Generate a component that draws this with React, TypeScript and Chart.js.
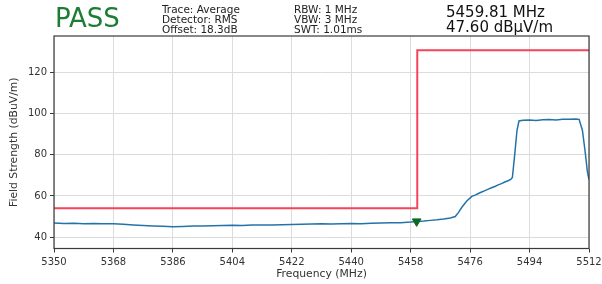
import React, { useEffect, useRef } from "react";
import { Chart, registerables } from "chart.js";

Chart.register(...registerables);

const traceFreq: number[] = [
  5350, 5353, 5356, 5359, 5362, 5365, 5368, 5371, 5374, 5377, 5380, 5383, 5386, 5389, 5392, 5395,
  5398, 5401, 5404, 5407, 5410, 5413, 5416, 5419, 5422, 5425, 5428, 5431, 5434, 5437, 5440, 5443,
  5446, 5449, 5452, 5455, 5458, 5459.81, 5462, 5464, 5466, 5468, 5470, 5471.5, 5472.5, 5473.5, 5475,
  5476.5, 5477.5, 5478.5, 5479.5, 5480.5, 5481.5, 5482.5, 5483.5, 5484.5, 5485.5, 5486.5, 5487.5,
  5488.3, 5488.8, 5489.5, 5490.2, 5490.8, 5492, 5494, 5496, 5498,
  5500, 5502, 5504, 5506, 5508, 5509, 5510, 5510.8, 5511.5, 5512,
];
const traceLevel: number[] = [
  46.8, 46.6, 46.7, 46.5, 46.6, 46.4, 46.5, 46.2, 45.9, 45.6, 45.4, 45.2, 45.0, 45.1, 45.3, 45.4,
  45.5, 45.6, 45.7, 45.6, 45.8, 45.9, 45.8, 46.0, 46.1, 46.2, 46.3, 46.4, 46.3, 46.5, 46.6, 46.5,
  46.7, 46.8, 46.9, 47.0, 47.3, 47.6, 47.8, 48.1, 48.4, 48.8, 49.3, 50.0, 52.0, 54.5, 57.5,
  59.8, 60.4, 61.2, 61.9, 62.6, 63.3, 64.0, 64.6, 65.4, 66.0, 66.8, 67.4,
  68.0, 69.0, 80.0, 92.0, 96.5, 96.9, 97.0, 96.8, 97.1,
  97.2, 97.0, 97.3, 97.4, 97.5, 97.3, 92.0, 82.0, 72.0, 68.0,
];
const limitFreq: number[] = [5350, 5460, 5460, 5512];
const limitLevel: number[] = [54, 54, 131, 131];
const markerFreq = 5459.81;
const markerLevel = 47.6;
const xTicks: number[] = [5350, 5368, 5386, 5404, 5422, 5440, 5458, 5476, 5494, 5512];
const yTicks: number[] = [40, 60, 80, 100, 120];
const infoCol1: string[] = ["Trace: Average", "Detector: RMS", "Offset: 18.3dB"];
const infoCol2: string[] = ["RBW: 1 MHz", "VBW: 3 MHz", "SWT: 1.01ms"];
const markerText: string[] = ["5459.81 MHz", "47.60 dBµV/m"];

const FONT = "'DejaVu Sans', sans-serif";

export default function App() {
  const ref = useRef<HTMLCanvasElement | null>(null);
  useEffect(() => {
    if (!ref.current) return;
    const framePlugin = {
      id: "frame",
      afterDraw(chart: any) {
        const { ctx, chartArea } = chart;
        ctx.save();
        ctx.strokeStyle = "#3a3a3a";
        ctx.lineWidth = 1.2;
        ctx.strokeRect(chartArea.left, chartArea.top, chartArea.right - chartArea.left, chartArea.bottom - chartArea.top);
        ctx.restore();
      },
    };
    const chart = new Chart(ref.current, {
      type: "line",
      data: {
        datasets: [
          {
            label: "limit",
            data: limitFreq.map((f, i) => ({ x: f, y: limitLevel[i] })),
            borderColor: "#f5435a",
            borderWidth: 2,
            pointRadius: 0,
            fill: false,
            order: 2,
          },
          {
            label: "trace",
            data: traceFreq.map((f, i) => ({ x: f, y: traceLevel[i] })),
            borderColor: "#2373aa",
            borderWidth: 1.5,
            pointRadius: 0,
            fill: false,
            order: 1,
          },
          {
            label: "marker",
            data: [{ x: markerFreq, y: markerLevel }],
            showLine: false,
            pointStyle: "triangle",
            rotation: 180,
            pointRadius: 5,
            backgroundColor: "#0b6b22",
            borderColor: "#0b6b22",
            order: 0,
          },
        ],
      },
      options: {
        animation: false,
        responsive: false,
        maintainAspectRatio: false,
        layout: { padding: { top: 36, right: 13, left: 0, bottom: 0 } },
        plugins: { legend: { display: false }, tooltip: { enabled: false } },
        scales: {
          x: {
            type: "linear",
            min: 5350,
            max: 5512,
            afterBuildTicks: (s: any) => {
              s.ticks = xTicks.map((v) => ({ value: v }));
            },
            afterFit: (s: any) => {
              s.height = 35.5;
              s.paddingLeft = 0;
              s.paddingRight = 0;
            },
            grid: { color: "#dcdcdc", lineWidth: 1, tickColor: "#3a3a3a", tickLength: 4 },
            border: { display: false },
            ticks: {
              color: "#333",
              font: { family: FONT, size: 10 },
              padding: 4,
              maxRotation: 0,
              autoSkip: false,
              callback: (v: any) => String(v),
            },
            title: {
              display: true,
              text: "Frequency (MHz)",
              color: "#333",
              font: { family: FONT, size: 10.8 },
              padding: { top: 0, bottom: 3 },
            },
          },
          y: {
            type: "linear",
            min: 34.4,
            max: 137.9,
            afterBuildTicks: (s: any) => {
              s.ticks = yTicks.map((v) => ({ value: v }));
            },
            afterFit: (s: any) => {
              s.width = 54;
              s.paddingTop = 0;
              s.paddingBottom = 0;
            },
            grid: { color: "#dcdcdc", lineWidth: 1, tickColor: "#3a3a3a", tickLength: 4 },
            border: { display: false },
            ticks: {
              color: "#333",
              font: { family: FONT, size: 10 },
              padding: 3,
              autoSkip: false,
              callback: (v: any) => String(v),
            },
            title: {
              display: true,
              text: "Field Strength (dBuV/m)",
              color: "#333",
              font: { family: FONT, size: 10.8 },
              padding: { top: 8, bottom: 0 },
            },
          },
        },
      },
      plugins: [framePlugin],
    } as any);
    return () => chart.destroy();
  }, []);

  const small: React.CSSProperties = {
    position: "absolute",
    fontFamily: FONT,
    fontSize: 10.5,
    lineHeight: "9.8px",
    color: "#222",
    whiteSpace: "nowrap",
  };

  return (
    <div style={{ position: "absolute", left: 0, top: 0, width: 602, height: 284, background: "#fff", overflow: "hidden" }}>
      <canvas ref={ref} width={602} height={284} style={{ position: "absolute", left: 0, top: 0, width: 602, height: 284 }} />
      <div
        style={{
          position: "absolute",
          left: 55,
          top: 3,
          fontFamily: FONT,
          fontSize: 26,
          lineHeight: "30px",
          color: "#1d7d34",
          whiteSpace: "nowrap",
        }}
      >
        PASS
      </div>
      <div style={{ ...small, left: 162, top: 5 }}>
        {infoCol1.map((t) => (
          <div key={t}>{t}</div>
        ))}
      </div>
      <div style={{ ...small, left: 294, top: 5 }}>
        {infoCol2.map((t) => (
          <div key={t}>{t}</div>
        ))}
      </div>
      <div
        style={{
          position: "absolute",
          left: 446,
          top: 5,
          fontFamily: FONT,
          fontSize: 15,
          lineHeight: "15px",
          color: "#111",
          whiteSpace: "nowrap",
        }}
      >
        {markerText.map((t) => (
          <div key={t}>{t}</div>
        ))}
      </div>
    </div>
  );
}
